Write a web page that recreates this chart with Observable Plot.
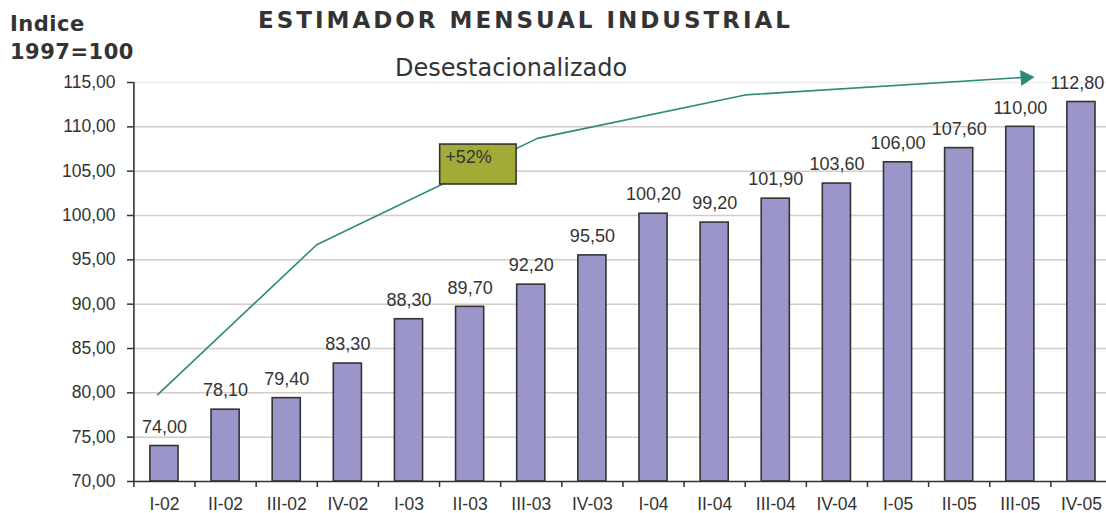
<!DOCTYPE html>
<html>
<head>
<meta charset="utf-8">
<script src="https://cdn.jsdelivr.net/npm/d3@7"></script>
<script src="https://cdn.jsdelivr.net/npm/@observablehq/plot@0.6"></script>
<style>
  html, body { margin: 0; padding: 0; background: #fff; }
  #wrap { position: relative; width: 1106px; height: 513px; overflow: hidden; }
  .t { position: absolute; color: #333; white-space: nowrap; }
  #ylab { left: 10px; top: 10px; font: bold 21px "DejaVu Sans"; line-height: 28px; letter-spacing: 0.5px; }
  #title { left: 258px; top: 7px; font: bold 23px "DejaVu Sans"; letter-spacing: 3px; }
  #sub { left: 395px; top: 54px; font: 24px "DejaVu Sans"; letter-spacing: 0px; }
  #chart { position: absolute; left: 0; top: 0; }
</style>
</head>
<body>
<div id="wrap">
  <div id="chart"></div>
  <div class="t" id="ylab">Indice<br>1997=100</div>
  <div class="t" id="title">ESTIMADOR MENSUAL INDUSTRIAL</div>
  <div class="t" id="sub">Desestacionalizado</div>
</div>
<script>
const categories = ["I-02","II-02","III-02","IV-02","I-03","II-03","III-03","IV-03","I-04","II-04","III-04","IV-04","I-05","II-05","III-05","IV-05"];
const values = [74.0, 78.1, 79.4, 83.3, 88.3, 89.7, 92.2, 95.5, 100.2, 99.2, 101.9, 103.6, 106.0, 107.6, 110.0, 112.8];
const yTicks = [70, 75, 80, 85, 90, 95, 100, 105, 110, 115];

// Decorative trend arrow (position index along categories, index value)
const trendX = [-0.11, 2.49, 6.10, 9.50, 14.0];
const trendY = [79.8, 96.7, 108.7, 113.6, 115.55];
// "+52%" annotation box
const boxLabel = ["+52%"];
const boxX = [4.51, 5.76];
const boxY = [103.5, 108.0];

const fmt = v => v.toFixed(2).replace(".", ",");
const data = categories.map((c, i) => ({i, c, v: values[i]}));
const last = data.length - 1;
const trend = trendX.map((x, k) => ({x, y: trendY[k]}));
const bounds = d3.range(-0.5, categories.length, 1);
const half = 0.23;

const chart = Plot.plot({
  width: 1106,
  height: 513,
  marginTop: 82,
  marginBottom: 32,
  marginLeft: 133,
  marginRight: 0,
  style: {fontFamily: "'Liberation Sans', Arial, sans-serif", color: "#333", background: "#fff", overflow: "visible"},
  x: {type: "linear", domain: [-0.5, 15.5], range: [133.4, 1111.5]},
  y: {domain: [70, 115]},
  marks: [
    Plot.gridY(yTicks.filter(d => d > 70 && d < 115), {stroke: "#d3cbc9", strokeOpacity: 1, strokeWidth: 1.5}),
    Plot.gridY([115], {stroke: "#ececec", strokeOpacity: 1, strokeWidth: 1.5}),
    Plot.rectY(data, {x1: d => d.i - half, x2: d => d.i + half, y1: 70, y2: "v",
      fill: "#9b96c9", stroke: "#333", strokeWidth: 1.6}),
    Plot.text(data.slice(0, last), {x: "i", y: "v", text: d => fmt(d.v), dy: -19, fontSize: 18, fill: "#333"}),
    Plot.text(data.slice(last), {x: "i", y: "v", text: d => fmt(d.v), dy: -19, dx: -4, fontSize: 18, fill: "#333"}),
    Plot.ruleY([70], {stroke: "#333", strokeWidth: 1.6}),
    Plot.ruleX([-0.5], {y1: 70, y2: 115, stroke: "#333", strokeWidth: 1.6}),
    Plot.axisY({ticks: yTicks, tickFormat: fmt, tickSize: 6, tickPadding: 12, fontSize: 17.5, stroke: "#333", strokeWidth: 1.5}),
    Plot.axisX({ticks: bounds, tickFormat: () => "", tickSize: 6, stroke: "#333", strokeWidth: 1.5}),
    Plot.axisX({ticks: d3.range(categories.length), tickFormat: i => categories[i], tickSize: 0, tickPadding: 16, fontSize: 17.5}),
    Plot.line(trend, {x: "x", y: "y", stroke: "#2e8a78", strokeWidth: 1.6, clip: false}),
    Plot.dot([trend[trend.length - 1]], {x: "x", y: "y", symbol: "triangle", r: 6, rotate: 86, fill: "#2e8a78", stroke: "none", dx: 5}),
    Plot.rect(boxLabel, {x1: () => boxX[0], x2: () => boxX[1], y1: () => boxY[0], y2: () => boxY[1],
      fill: "#a3ab37", stroke: "#333", strokeWidth: 1.6}),
    Plot.text(boxLabel, {x: () => boxX[0], y: () => boxY[1], text: d => d, textAnchor: "start", dx: 5, dy: 13, fontSize: 18, fill: "#333"})
  ]
});
document.getElementById("chart").appendChild(chart);
</script>
</body>
</html>
